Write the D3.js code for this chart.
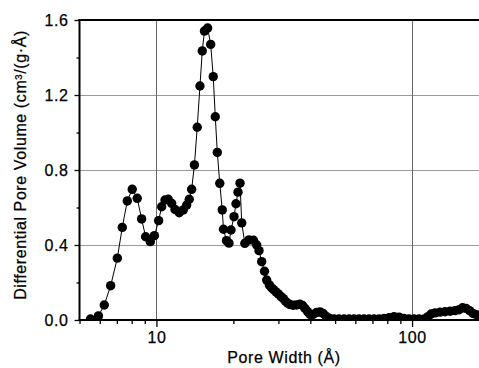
<!DOCTYPE html>
<html>
<head>
<meta charset="utf-8">
<script src="https://cdn.jsdelivr.net/npm/d3@7"></script>
<style>
  html, body { margin: 0; padding: 0; background: #fff; }
  svg { display: block; font-family: "Liberation Sans", Arial, Helvetica, sans-serif; }
</style>
</head>
<body>
<svg id="chart" width="479" height="368"></svg>
<script>
// Pore size distribution: pore width (Å) vs differential pore volume (cm³/(g·Å))
const poreWidth = [
  5.52, 5.93, 6.25, 6.62, 7.03, 7.35, 7.69, 8.04, 8.41, 8.75,
  9.07, 9.46, 9.82, 10.2, 10.48, 10.80, 11.12, 11.47, 11.82, 12.28,
  12.73, 13.13, 13.44, 13.73, 14.08, 14.44, 14.80, 15.11, 15.41, 15.86,
  16.30, 16.68, 16.99, 17.30, 17.69, 18.09, 18.29, 18.79, 19.22, 19.57,
  20.11, 20.47, 20.85, 21.23, 21.56, 22.17, 23.01, 23.97, 24.67, 25.19,
  25.81, 26.47, 27.00, 27.64, 28.19, 28.70, 29.35, 29.97, 30.71, 31.36,
  31.98, 32.62, 33.30, 34.21, 35.31, 36.44, 37.27, 38.12, 39.00, 39.88,
  40.97, 42.29, 43.64, 44.85, 46.08, 47.34, 49.52, 51.81, 54.19, 56.69,
  59.29, 62.03, 64.89, 67.88, 71.01, 74.28, 77.70, 81.28, 85.04, 88.95,
  93.05, 97.34, 101.8, 106.5, 111.4, 115.5, 118.7, 123.0, 128.8, 134.6,
  140.9, 147.3, 152.8, 157.6, 162.7, 167.9, 173.3, 178.8, 184.6
];
const poreVolume = [
  0.005, 0.022, 0.080, 0.183, 0.330, 0.494, 0.635, 0.697, 0.649, 0.539,
  0.444, 0.418, 0.450, 0.530, 0.604, 0.640, 0.644, 0.622, 0.590, 0.572,
  0.587, 0.613, 0.644, 0.697, 0.827, 1.028, 1.248, 1.435, 1.541, 1.557,
  1.470, 1.298, 1.084, 0.894, 0.729, 0.587, 0.484, 0.423, 0.410, 0.480,
  0.551, 0.620, 0.682, 0.730, 0.518, 0.409, 0.427, 0.425, 0.400, 0.370,
  0.311, 0.260, 0.213, 0.187, 0.172, 0.162, 0.150, 0.139, 0.125, 0.114,
  0.100, 0.090, 0.082, 0.079, 0.080, 0.084, 0.078, 0.062, 0.045, 0.030,
  0.030, 0.040, 0.043, 0.035, 0.020, 0.010, 0.006, 0.005, 0.005, 0.005,
  0.005, 0.005, 0.005, 0.005, 0.005, 0.005, 0.008, 0.012, 0.018, 0.015,
  0.008, 0.005, 0.005, 0.005, 0.005, 0.018, 0.032, 0.038, 0.042, 0.044,
  0.047, 0.050, 0.055, 0.065, 0.062, 0.050, 0.035, 0.028, 0.025
];
const yTicks = [0, 0.4, 0.8, 1.2, 1.6];
const yMinorTicks = [0.2, 0.6, 1.0, 1.4];
const xTicks = [10, 100];
const xMinorTicks = [5, 6, 7, 8, 9, 20, 30, 40, 50, 60, 70, 80, 90, 200];
const xTitle = "Pore Width (Å)";
const yTitle = "Differential Pore Volume (cm³/(g·Å)";

const data = poreWidth.map((w, i) => ({ w, v: poreVolume[i] }));

const svg = d3.select("#chart");
const plotLeft = 79.5, plotRight = 489, plotTop = 20, plotBottom = 320;

const x = d3.scaleLog().domain([5, 200]).range([plotLeft, plotRight]);
const y = d3.scaleLinear().domain([0, 1.6]).range([plotBottom, plotTop]);

// Clip region for the plotted series
svg.append("defs").append("clipPath").attr("id", "plotClip")
  .append("rect").attr("x", plotLeft).attr("y", plotTop)
  .attr("width", plotRight - plotLeft).attr("height", plotBottom - plotTop);

// Grid lines
svg.append("g").selectAll("line").data(yTicks.filter(d => d > 0 && d < 1.6)).join("line")
  .attr("x1", plotLeft).attr("x2", plotRight)
  .attr("y1", d => Math.round(y(d)) + 0.5).attr("y2", d => Math.round(y(d)) + 0.5)
  .attr("stroke", "#9a9a9a").attr("stroke-width", 1);
svg.append("g").selectAll("line").data(xTicks).join("line")
  .attr("x1", d => Math.round(x(d)) + 0.5).attr("x2", d => Math.round(x(d)) + 0.5)
  .attr("y1", plotTop).attr("y2", plotBottom)
  .attr("stroke", "#666").attr("stroke-width", 1);

// Series: connecting line and filled markers
const plot = svg.append("g").attr("clip-path", "url(#plotClip)");
plot.append("path").datum(data)
  .attr("fill", "none").attr("stroke", "#000").attr("stroke-width", 1)
  .attr("d", d3.line().x(d => x(d.w)).y(d => y(d.v)));
plot.selectAll("circle").data(data).join("circle")
  .attr("cx", d => x(d.w)).attr("cy", d => y(d.v)).attr("r", 4.7)
  .attr("fill", "#000");

// Axes
svg.append("g").attr("transform", `translate(${plotLeft},0)`)
  .call(d3.axisLeft(y).tickValues(yTicks).tickFormat(d3.format(".1f")).tickSize(5).tickPadding(6));
svg.append("g").attr("transform", `translate(${plotLeft},0)`)
  .call(d3.axisLeft(y).tickValues(yMinorTicks).tickFormat("").tickSize(3));
svg.append("g").attr("transform", `translate(0,${plotBottom})`)
  .call(d3.axisBottom(x).tickValues(xTicks).tickFormat(d3.format("d")).tickSize(7).tickPadding(5));
svg.append("g").attr("transform", `translate(0,${plotBottom})`)
  .call(d3.axisBottom(x).tickValues(xMinorTicks).tickFormat("").tickSize(4));

svg.selectAll(".domain").remove();
svg.selectAll(".tick line").attr("stroke", "#000").attr("stroke-width", 1.3);
svg.selectAll(".tick text").attr("font-size", 16).attr("fill", "#000")
  .attr("letter-spacing", 0.6)
  .attr("stroke", "#000").attr("stroke-width", 0.25)
  .attr("font-family", "'Liberation Sans', Arial, sans-serif");

// Frame lines: left, bottom, top
svg.append("line").attr("x1", plotLeft).attr("x2", plotLeft).attr("y1", plotTop - 1).attr("y2", plotBottom + 1)
  .attr("stroke", "#000").attr("stroke-width", 2);
svg.append("line").attr("x1", plotLeft - 1).attr("x2", plotRight).attr("y1", plotBottom).attr("y2", plotBottom)
  .attr("stroke", "#000").attr("stroke-width", 2);
svg.append("line").attr("x1", plotLeft - 1).attr("x2", plotRight).attr("y1", plotTop).attr("y2", plotTop)
  .attr("stroke", "#000").attr("stroke-width", 2);

// Axis titles
svg.append("text").attr("x", 284).attr("y", 363).attr("text-anchor", "middle")
  .attr("font-size", 16).attr("letter-spacing", 0.6)
  .attr("stroke", "#000").attr("stroke-width", 0.25).text(xTitle);
svg.append("text").attr("transform", `translate(26,165) rotate(-90)`)
  .attr("text-anchor", "middle").attr("font-size", 16).attr("letter-spacing", 0.6)
  .attr("stroke", "#000").attr("stroke-width", 0.25).text(yTitle);
</script>
</body>
</html>
